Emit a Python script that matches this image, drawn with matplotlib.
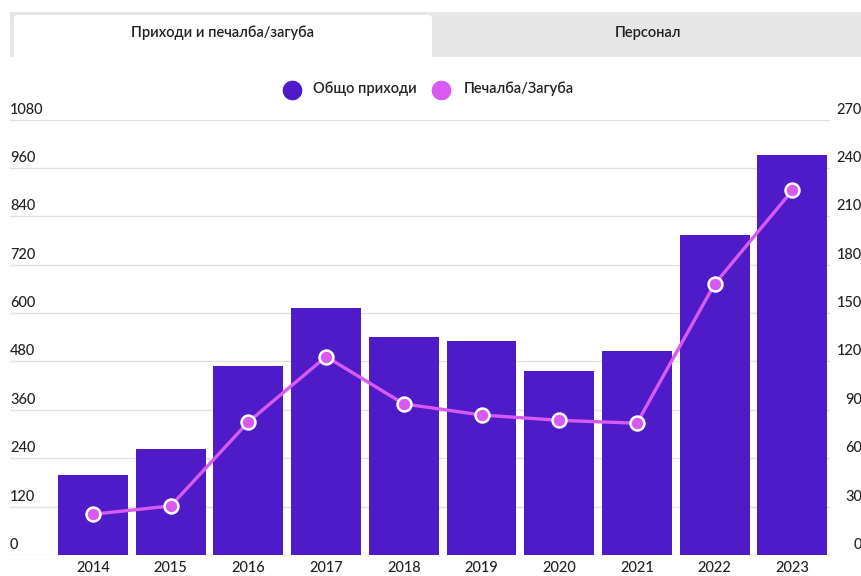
import matplotlib
matplotlib.use('Agg')
from matplotlib import pyplot as plt
from matplotlib.patches import FancyBboxPatch, Rectangle
from matplotlib.transforms import offset_copy
import numpy as np

plt.rcParams['font.family'] = ['Lato', 'DejaVu Sans']

years = ['2014', '2015', '2016', '2017', '2018', '2019', '2020', '2021', '2022', '2023']
revenue = [198, 262, 469, 613, 541, 530, 457, 506, 794, 992]
profit = [25.3, 30.4, 82.5, 123, 93.7, 86.8, 83.5, 81.7, 168, 226]

left_ticks = [0, 120, 240, 360, 480, 600, 720, 840, 960, 1080]
right_ticks = [0, 30, 60, 90, 120, 150, 180, 210, 240, 270]

tabs = ['Приходи и печалба/загуба', 'Персонал']
legend_names = ['Общо приходи', 'Печалба/Загуба']

barColor = '#4f1bc9'
lineColor = '#d85af2'
gridColor = '#e2e2e2'
textColor = '#222222'

fig = plt.figure(figsize=(8.62, 5.76), dpi=100)
W, H = 862, 576

# --- tabs on top
tabAx = fig.add_axes([0, 0, 1, 1])
tabAx.set_xlim(0, W)
tabAx.set_ylim(H, 0)
tabAx.axis('off')
tabAx.add_patch(Rectangle((10, 12), 852, 45, color='#e6e6e6', lw=0))
tabAx.add_patch(FancyBboxPatch((14, 15), 418, 50, boxstyle='round,pad=0,rounding_size=4',
                               color='white', lw=0))
tabAx.add_patch(Rectangle((10, 57), 852, 20, color='white', lw=0))
tabAx.text(223, 33, tabs[0], ha='center', va='center', fontsize=10.5, color=textColor, weight='semibold')
tabAx.text(648, 33, tabs[1], ha='center', va='center', fontsize=10.5, color=textColor, weight='semibold')

# --- legend
tabAx.scatter([292], [90], s=200, color=barColor, lw=0)
tabAx.text(313, 89, legend_names[0], ha='left', va='center', fontsize=10.5, color=textColor, weight='semibold')
tabAx.scatter([441], [90], s=200, color=lineColor, lw=0)
tabAx.text(464, 89, legend_names[1], ha='left', va='center', fontsize=10.5, color=textColor, weight='semibold')

# --- main chart
ax = fig.add_axes([10 / W, 1 - 555 / H, 820 / W, (555 - 119.5) / H])
x = np.arange(len(years))
ax.set_xlim(-1.068, 9.485)
ax.set_ylim(0, 1080)
lblTrans = offset_copy(ax.get_yaxis_transform(), fig=fig, x=0, y=3, units='dots')
for t in left_ticks:
    ax.axhline(t, color=gridColor, lw=1, zorder=0)
    ax.text(0, t, str(t), transform=lblTrans, ha='left', va='bottom',
            fontsize=10.5, color=textColor, weight='medium')
ax.bar(x, revenue, width=0.9, color=barColor, zorder=2)
ax.set_xticks(x)
ax.set_xticklabels(years, fontsize=10.5, color=textColor, weight='medium')
ax.tick_params(axis='x', length=0, pad=4)
ax.set_yticks([])
for s in ax.spines.values():
    s.set_visible(False)

ax2 = ax.twinx()
ax2.set_ylim(0, 270)
ax2.plot(x, profit, color=lineColor, lw=2.4, marker='o', markersize=10,
         markerfacecolor=lineColor, markeredgecolor='white', markeredgewidth=1.8, zorder=3)
lblTrans2 = offset_copy(ax2.get_yaxis_transform(), fig=fig, x=0, y=3, units='dots')
for t in right_ticks:
    ax2.text(852 / 820, t, str(t), transform=lblTrans2,
             ha='right', va='bottom', fontsize=10.5, color=textColor, weight='medium')
ax2.set_yticks([])
for s in ax2.spines.values():
    s.set_visible(False)

plt.savefig('out.png', dpi=100)
